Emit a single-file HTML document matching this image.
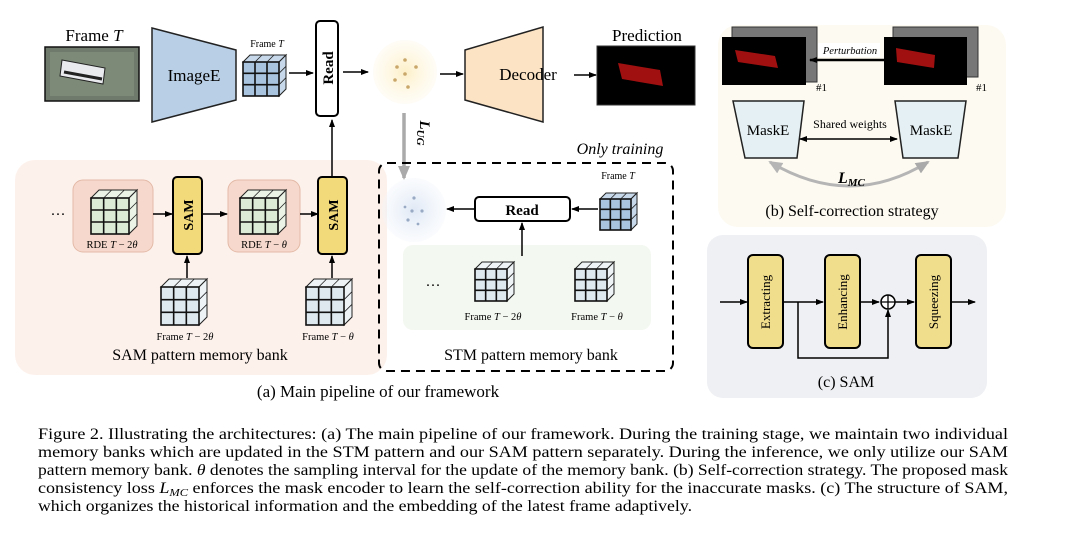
<!DOCTYPE html>
<html><head><meta charset="utf-8"><style>
body{margin:0;background:#fff;}
svg{display:block;font-family:"Liberation Serif",serif;}
</style></head><body>
<svg id="s" width="1080" height="542" viewBox="0 0 1080 542" xmlns="http://www.w3.org/2000/svg">
<defs>
<marker id="ah" markerWidth="8" markerHeight="8" refX="7" refY="4" orient="auto" markerUnits="userSpaceOnUse"><path d="M0,1 L8,4 L0,7 z" fill="#000"/></marker>
<marker id="ahs" markerWidth="8" markerHeight="8" refX="1" refY="4" orient="auto" markerUnits="userSpaceOnUse"><path d="M8,1 L0,4 L8,7 z" fill="#000"/></marker>
<marker id="ag" markerWidth="14" markerHeight="14" refX="12" refY="7" orient="auto" markerUnits="userSpaceOnUse"><path d="M0,1 L14,7 L0,13 z" fill="#aaa"/></marker>
<marker id="ags" markerWidth="14" markerHeight="14" refX="2" refY="7" orient="auto" markerUnits="userSpaceOnUse"><path d="M14,1 L0,7 L14,13 z" fill="#b5b5b5"/></marker>
<radialGradient id="yc"><stop offset="0" stop-color="#fdf0c8"/><stop offset="1" stop-color="#fdf6e0" stop-opacity="0.3"/></radialGradient>
<radialGradient id="bc"><stop offset="0" stop-color="#dfe8f5"/><stop offset="1" stop-color="#eef3fa" stop-opacity="0.3"/></radialGradient>
</defs>
<rect x="15" y="160" width="372" height="215" rx="20" fill="#fdf1ec"/>
<rect x="403" y="245" width="248" height="85" rx="10" fill="#f3f8f0"/>
<rect x="718" y="25" width="288" height="202" rx="20" fill="#fdfaf1"/>
<rect x="707" y="235" width="280" height="163" rx="16" fill="#eef0f3"/>

<text x="94" y="41" font-size="17" text-anchor="middle">Frame <tspan font-style="italic">T</tspan></text>
<rect x="45" y="47" width="94" height="54" fill="#6f7a6c" stroke="#111" stroke-width="1.5"/>
<rect x="50" y="52" width="84" height="44" fill="#7d8a78"/>
<path d="M62 60 L105 68 L103 84 L60 76 z" fill="#e8eaee" stroke="#222" stroke-width="1"/>
<path d="M64 72 L102 79" stroke="#222" stroke-width="3"/>
<path d="M152 28 L236 50 L236 100 L152 122 z" fill="#b9cfe5" stroke="#222" stroke-width="1.5"/>
<text x="194" y="81" font-size="17" text-anchor="middle">ImageE</text>
<text x="267" y="47" font-size="10" text-anchor="middle">Frame <tspan font-style="italic">T</tspan></text>
<line x1="289" y1="73" x2="313" y2="73" stroke="#000" stroke-width="1.5" marker-end="url(#ah)"/>
<rect x="316" y="21" width="22" height="95" rx="4" fill="#fff" stroke="#000" stroke-width="2"/>
<text transform="translate(333,68) rotate(-90)" font-size="15" font-weight="bold" text-anchor="middle">Read</text>
<line x1="343" y1="72" x2="368" y2="72" stroke="#000" stroke-width="1.5" marker-end="url(#ah)"/>
<circle cx="405" cy="72" r="32" fill="url(#yc)"/>
<g fill="#c9a76a"><circle cx="405" cy="60" r="1.8"/><circle cx="397" cy="67" r="1.8"/><circle cx="416" cy="67" r="1.8"/><circle cx="405" cy="74" r="1.8"/><circle cx="395" cy="80" r="1.8"/><circle cx="408" cy="87" r="1.8"/></g>
<line x1="440" y1="74" x2="463" y2="74" stroke="#000" stroke-width="1.5" marker-end="url(#ah)"/>
<path d="M465 50 L543 27 L543 122 L465 100 z" fill="#fbe3c4" stroke="#222" stroke-width="1.5"/>
<text x="528" y="80" font-size="17" text-anchor="middle">Decoder</text>
<line x1="574" y1="75" x2="596" y2="75" stroke="#000" stroke-width="1.5" marker-end="url(#ah)"/>
<text x="647" y="41" font-size="17" text-anchor="middle">Prediction</text>
<rect x="597" y="46" width="98" height="59" fill="#000" stroke="#333"/>
<path d="M618 63 L660 70 L663 86 L622 79 z" fill="#a01010"/>

<line x1="404" y1="113" x2="404" y2="178" stroke="#aaa" stroke-width="3.5" marker-end="url(#ag)"/>
<text transform="translate(420,133) rotate(90)" font-size="15" font-weight="bold" font-style="italic" text-anchor="middle">L<tspan font-size="11" dy="3">UG</tspan></text>

<text x="620" y="154" font-size="16" font-style="italic" text-anchor="middle">Only training</text>
<rect x="379" y="163" width="294" height="208" rx="8" fill="none" stroke="#000" stroke-width="2" stroke-dasharray="9,6"/>
<circle cx="414" cy="210" r="32" fill="url(#bc)"/>
<g fill="#98aac4"><circle cx="414" cy="198" r="1.6"/><circle cx="405" cy="207" r="1.4"/><circle cx="412" cy="211" r="1.6"/><circle cx="422" cy="211" r="1.6"/><circle cx="408" cy="220" r="1.6"/><circle cx="418" cy="224" r="1.4"/></g>
<rect x="475" y="197" width="95" height="24" rx="4" fill="#fff" stroke="#000" stroke-width="2"/>
<text x="522" y="215" font-size="15" font-weight="bold" text-anchor="middle">Read</text>
<line x1="475" y1="209" x2="447" y2="209" stroke="#000" stroke-width="1.5" marker-end="url(#ah)"/>
<line x1="598" y1="209" x2="572" y2="209" stroke="#000" stroke-width="1.5" marker-end="url(#ah)"/>
<text x="618" y="179" font-size="10" text-anchor="middle">Frame <tspan font-style="italic">T</tspan></text>
<line x1="522" y1="256" x2="522" y2="223" stroke="#000" stroke-width="1.5" marker-end="url(#ah)"/>
<text x="433" y="290" font-size="15" text-anchor="middle">···</text>
<text x="493" y="320" font-size="10.5" text-anchor="middle">Frame <tspan font-style="italic">T</tspan> − 2<tspan font-style="italic">θ</tspan></text>
<text x="597" y="320" font-size="10.5" text-anchor="middle">Frame <tspan font-style="italic">T</tspan> − <tspan font-style="italic">θ</tspan></text>
<text x="531" y="360" font-size="16" text-anchor="middle">STM pattern memory bank</text>

<text x="58" y="219" font-size="15" text-anchor="middle">···</text>
<rect x="73" y="180" width="80" height="72" rx="10" fill="#f6d9cc" stroke="#e3b9a7"/>
<rect x="228" y="180" width="72" height="72" rx="10" fill="#f6d9cc" stroke="#e3b9a7"/>
<text x="112" y="248" font-size="10.5" text-anchor="middle">RDE <tspan font-style="italic">T</tspan> − 2<tspan font-style="italic">θ</tspan></text>
<text x="264" y="248" font-size="10.5" text-anchor="middle">RDE <tspan font-style="italic">T</tspan> − <tspan font-style="italic">θ</tspan></text>
<line x1="153" y1="214" x2="172" y2="214" stroke="#000" stroke-width="1.5" marker-end="url(#ah)"/>
<rect x="173" y="177" width="29" height="77" rx="4" fill="#f2d97a" stroke="#000" stroke-width="2"/>
<text transform="translate(193,215) rotate(-90)" font-size="14" font-weight="bold" text-anchor="middle">SAM</text>
<line x1="202" y1="214" x2="227" y2="214" stroke="#000" stroke-width="1.5" marker-end="url(#ah)"/>
<line x1="300" y1="214" x2="318" y2="214" stroke="#000" stroke-width="1.5" marker-end="url(#ah)"/>
<rect x="318" y="177" width="29" height="77" rx="4" fill="#f2d97a" stroke="#000" stroke-width="2"/>
<text transform="translate(338,215) rotate(-90)" font-size="14" font-weight="bold" text-anchor="middle">SAM</text>
<line x1="332" y1="176" x2="332" y2="120" stroke="#000" stroke-width="1.5" marker-end="url(#ah)"/>
<line x1="187" y1="278" x2="187" y2="256" stroke="#000" stroke-width="1.5" marker-end="url(#ah)"/>
<line x1="332" y1="278" x2="332" y2="256" stroke="#000" stroke-width="1.5" marker-end="url(#ah)"/>
<text x="185" y="340" font-size="10.5" text-anchor="middle">Frame <tspan font-style="italic">T</tspan> − 2<tspan font-style="italic">θ</tspan></text>
<text x="328" y="340" font-size="10.5" text-anchor="middle">Frame <tspan font-style="italic">T</tspan> − <tspan font-style="italic">θ</tspan></text>
<text x="200" y="360" font-size="16" text-anchor="middle">SAM pattern memory bank</text>
<text x="378" y="397" font-size="17" text-anchor="middle">(a) Main pipeline of our framework</text>

<rect x="732" y="27" width="85" height="55" fill="#777" stroke="#333"/>
<rect x="722" y="37" width="84" height="48" fill="#000"/>
<path d="M735 50 L775 56 L778 68 L738 62 z" fill="#a01010"/>
<text x="816" y="91" font-size="11">#1</text>
<rect x="893" y="27" width="85" height="50" fill="#777" stroke="#333"/>
<rect x="884" y="37" width="83" height="48" fill="#000"/>
<path d="M896 48 L935 55 L934 68 L897 62 z" fill="#a01010"/>
<text x="976" y="91" font-size="11">#1</text>
<line x1="884" y1="60" x2="810" y2="60" stroke="#000" stroke-width="2.5" marker-end="url(#ah)"/>
<rect x="818" y="43" width="62" height="14" fill="#fff"/>
<text x="850" y="54" font-size="10.5" font-style="italic" text-anchor="middle">Perturbation</text>
<path d="M733 101 L804 101 L797 158 L745 158 z" fill="#e4f0f3" stroke="#222" stroke-width="1.5"/>
<text x="768" y="135" font-size="15" text-anchor="middle">MaskE</text>
<path d="M895 101 L966 101 L958 158 L903 158 z" fill="#e4f0f3" stroke="#222" stroke-width="1.5"/>
<text x="931" y="135" font-size="15" text-anchor="middle">MaskE</text>
<text x="850" y="128" font-size="12" text-anchor="middle">Shared weights</text>
<line x1="800" y1="139" x2="897" y2="139" stroke="#000" stroke-width="1.5" marker-start="url(#ahs)" marker-end="url(#ah)"/>
<path d="M770 162 Q850 210 928 162" fill="none" stroke="#b5b5b5" stroke-width="3" marker-start="url(#ags)" marker-end="url(#ag)"/>
<text x="838" y="183" font-size="16" font-weight="bold" font-style="italic">L<tspan font-size="11" dy="3">MC</tspan></text>
<text x="852" y="216" font-size="16" text-anchor="middle">(b) Self-correction strategy</text>

<line x1="720" y1="302" x2="747" y2="302" stroke="#000" stroke-width="1.5" marker-end="url(#ah)"/>
<rect x="748" y="255" width="35" height="93" rx="5" fill="#f1de8c" stroke="#000" stroke-width="2"/>
<text transform="translate(770,302) rotate(-90)" font-size="13" text-anchor="middle">Extracting</text>
<line x1="783" y1="302" x2="823" y2="302" stroke="#000" stroke-width="1.5" marker-end="url(#ah)"/>
<rect x="825" y="255" width="35" height="93" rx="5" fill="#f1de8c" stroke="#000" stroke-width="2"/>
<text transform="translate(847,302) rotate(-90)" font-size="13" text-anchor="middle">Enhancing</text>
<line x1="860" y1="302" x2="879" y2="302" stroke="#000" stroke-width="1.5" marker-end="url(#ah)"/>
<circle cx="888" cy="302" r="7" fill="#fff" stroke="#000" stroke-width="1.5"/>
<path d="M881 302 H895 M888 295 V309" stroke="#000" stroke-width="1.3"/>
<line x1="895" y1="302" x2="914" y2="302" stroke="#000" stroke-width="1.5" marker-end="url(#ah)"/>
<rect x="916" y="255" width="35" height="93" rx="5" fill="#f1de8c" stroke="#000" stroke-width="2"/>
<text transform="translate(938,302) rotate(-90)" font-size="13" text-anchor="middle">Squeezing</text>
<line x1="951" y1="302" x2="975" y2="302" stroke="#000" stroke-width="1.5" marker-end="url(#ah)"/>
<path d="M798 302 V358 H888 V310" fill="none" stroke="#000" stroke-width="1.5" marker-end="url(#ah)"/>
<text x="846" y="387" font-size="16" text-anchor="middle">(c) SAM</text>

<g id="cubes"></g>

<g font-size="16">
<text x="38" y="439" textLength="970" lengthAdjust="spacingAndGlyphs">Figure 2. Illustrating the architectures: (a) The main pipeline of our framework. During the training stage, we maintain two individual</text>
<text x="38" y="457" textLength="970" lengthAdjust="spacingAndGlyphs">memory banks which are updated in the STM pattern and our SAM pattern separately. During the inference, we only utilize our SAM</text>
<text x="38" y="475" textLength="970" lengthAdjust="spacingAndGlyphs">pattern memory bank. <tspan font-style="italic">θ</tspan> denotes the sampling interval for the update of the memory bank. (b) Self-correction strategy. The proposed mask</text>
<text x="38" y="493" textLength="970" lengthAdjust="spacingAndGlyphs">consistency loss <tspan font-style="italic">L</tspan><tspan font-style="italic" font-size="11" dy="3">MC</tspan><tspan dy="-3"> enforces the mask encoder to learn the self-correction ability for the inaccurate masks. (c) The structure of SAM,</tspan></text>
<text x="38" y="511" textLength="654" lengthAdjust="spacingAndGlyphs">which organizes the historical information and the embedding of the latest frame adaptively.</text>
</g>
</svg>
<script>
(function(){
var g=document.getElementById('cubes');
var out='';
function cube(x,y,w,h,d,fill,side){
 var s='';
 s+='<path d="M'+x+' '+(y+d)+' L'+(x+d)+' '+y+' L'+(x+w+d)+' '+y+' L'+(x+w)+' '+(y+d)+' z" fill="'+side+'" stroke="#222" stroke-width="1"/>';
 s+='<path d="M'+(x+w)+' '+(y+d)+' L'+(x+w+d)+' '+y+' L'+(x+w+d)+' '+(y+h)+' L'+(x+w)+' '+(y+h+d)+' z" fill="'+side+'" stroke="#222" stroke-width="1"/>';
 s+='<rect x="'+x+'" y="'+(y+d)+'" width="'+w+'" height="'+h+'" fill="'+fill+'" stroke="#111" stroke-width="1.6"/>';
 for(var i=1;i<3;i++){
  s+='<line x1="'+(x+w*i/3)+'" y1="'+(y+d)+'" x2="'+(x+w*i/3)+'" y2="'+(y+d+h)+'" stroke="#111" stroke-width="1.6"/>';
  s+='<line x1="'+x+'" y1="'+(y+d+h*i/3)+'" x2="'+(x+w)+'" y2="'+(y+d+h*i/3)+'" stroke="#111" stroke-width="1.6"/>';
  s+='<line x1="'+(x+w*i/3)+'" y1="'+(y+d)+'" x2="'+(x+w*i/3+d)+'" y2="'+y+'" stroke="#222" stroke-width="0.8"/>';
  s+='<line x1="'+(x+w)+'" y1="'+(y+d+h*i/3)+'" x2="'+(x+w+d)+'" y2="'+(y+h*i/3)+'" stroke="#222" stroke-width="0.8"/>';
 }
 out+=s;
}
var blue='#a9c4df',bs='#c6d8ea',grn='#dcebd6',gs='#eaf3e6',lb='#dde9ee',ls='#eef4f6';
cube(243,55,36,34,7,blue,bs);
cube(600,193,31,31,6,blue,bs);
cube(91,190,38,36,8,grn,gs);
cube(240,190,38,36,8,grn,gs);
cube(161,279,38,38,8,lb,ls);
cube(306,279,38,38,8,lb,ls);
cube(475,262,32,32,7,lb,ls);
cube(575,262,32,32,7,lb,ls);
g.innerHTML=out;
})();
</script>
</body></html>
